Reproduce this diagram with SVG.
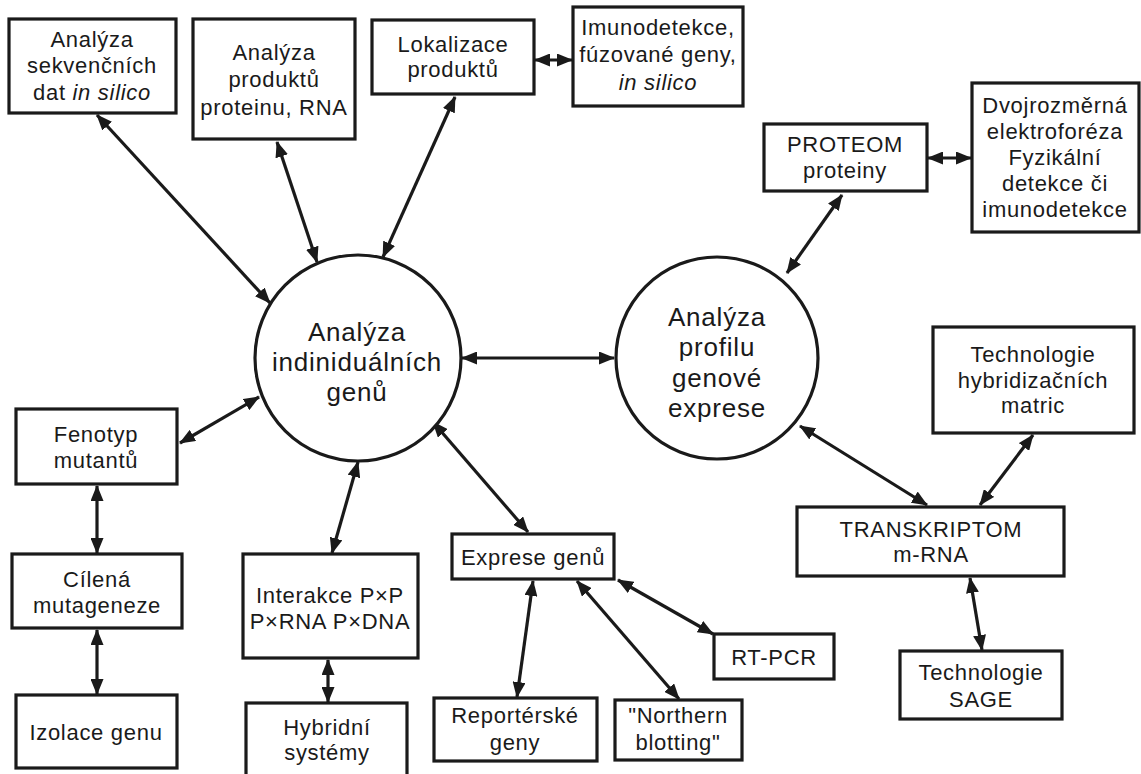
<svg xmlns="http://www.w3.org/2000/svg" width="1141" height="774" viewBox="0 0 1141 774">
<style>
.box{fill:#fff;stroke:#1a1a1a;stroke-width:3.2}
.circ{fill:#fff;stroke:#1a1a1a;stroke-width:3.2}
.t{font-family:"Liberation Sans",Arial,sans-serif;font-size:22px;letter-spacing:0.7px;fill:#1a1a1a;text-anchor:middle}
.c{font-family:"Liberation Sans",Arial,sans-serif;font-size:26px;letter-spacing:0.8px;fill:#1a1a1a;text-anchor:middle}
.con line{stroke:#1a1a1a;stroke-width:3.2;marker-start:url(#ah);marker-end:url(#ah)}
</style>
<defs>
<marker id="ah" viewBox="0 0 16 13" refX="15" refY="6.5" markerWidth="16" markerHeight="13" markerUnits="userSpaceOnUse" orient="auto-start-reverse">
<path d="M0,0 L16,6.5 L0,13 z" fill="#1a1a1a"/>
</marker>
</defs>
<rect width="1141" height="774" fill="#fff"/>

<g id="connectors" class="con">
<line x1="97" y1="115" x2="270" y2="303"/>
<line x1="277" y1="142" x2="317" y2="262"/>
<line x1="455" y1="97" x2="383" y2="257"/>
<line x1="535" y1="60" x2="572" y2="60"/>
<line x1="928" y1="158" x2="971" y2="158"/>
<line x1="842" y1="195" x2="787" y2="273"/>
<line x1="462" y1="358" x2="614" y2="358"/>
<line x1="180" y1="443" x2="259" y2="397"/>
<line x1="97" y1="486" x2="97" y2="553"/>
<line x1="97" y1="630" x2="97" y2="694"/>
<line x1="358" y1="462" x2="332" y2="553"/>
<line x1="328" y1="660" x2="328" y2="702"/>
<line x1="433" y1="422" x2="528" y2="532"/>
<line x1="533" y1="581" x2="517" y2="697"/>
<line x1="577" y1="581" x2="679" y2="699"/>
<line x1="618" y1="580" x2="713" y2="634"/>
<line x1="800" y1="426" x2="927" y2="505"/>
<line x1="1033" y1="435" x2="980" y2="505"/>
<line x1="970" y1="578" x2="982" y2="650"/>
</g>

<g id="n-individual">
<circle class="circ" cx="358" cy="358" r="103"/>
<text class="c" x="357" y="341">Analýza</text>
<text class="c" x="357" y="371">indiniduálních</text>
<text class="c" x="357" y="401">genů</text>
</g>

<g id="n-profil">
<circle class="circ" cx="717" cy="358" r="101"/>
<text class="c" x="717" y="326">Analýza</text>
<text class="c" x="717" y="356">profilu</text>
<text class="c" x="717" y="387">genové</text>
<text class="c" x="717" y="417">exprese</text>
</g>

<g id="n-sekvence">
<rect class="box" x="9" y="19" width="167" height="94"/>
<text class="t" x="92" y="47">Analýza</text>
<text class="t" x="92" y="73">sekvenčních</text>
<text class="t" x="92" y="100">dat <tspan font-style="italic">in silico</tspan></text>
</g>

<g id="n-produkty">
<rect class="box" x="193" y="19" width="162" height="120"/>
<text class="t" x="274" y="60">Analýza</text>
<text class="t" x="274" y="87">produktů</text>
<text class="t" x="274" y="115">proteinu, RNA</text>
</g>

<g id="n-lokalizace">
<rect class="box" x="372" y="20" width="162" height="74"/>
<text class="t" x="453" y="52">Lokalizace</text>
<text class="t" x="453" y="77">produktů</text>
</g>

<g id="n-imuno">
<rect class="box" x="573" y="7" width="170" height="99"/>
<text class="t" x="658" y="35">Imunodetekce,</text>
<text class="t" x="658" y="62">fúzované geny,</text>
<text class="t" x="658" y="90" font-style="italic">in silico</text>
</g>

<g id="n-proteom">
<rect class="box" x="764" y="124" width="163" height="67"/>
<text class="t" x="845" y="152">PROTEOM</text>
<text class="t" x="845" y="178">proteiny</text>
</g>

<g id="n-dvoj">
<rect class="box" x="972" y="83" width="167" height="149"/>
<text class="t" x="1055" y="113">Dvojrozměrná</text>
<text class="t" x="1055" y="139">elektroforéza</text>
<text class="t" x="1055" y="165">Fyzikální</text>
<text class="t" x="1055" y="191">detekce či</text>
<text class="t" x="1055" y="217">imunodetekce</text>
</g>

<g id="n-techhyb">
<rect class="box" x="933" y="327" width="201" height="106"/>
<text class="t" x="1033" y="362">Technologie</text>
<text class="t" x="1033" y="388">hybridizačních</text>
<text class="t" x="1033" y="413">matric</text>
</g>

<g id="n-transkriptom">
<rect class="box" x="797" y="507" width="267" height="69"/>
<text class="t" x="931" y="537">TRANSKRIPTOM</text>
<text class="t" x="931" y="562">m-RNA</text>
</g>

<g id="n-sage">
<rect class="box" x="900" y="651" width="162" height="68"/>
<text class="t" x="981" y="680">Technologie</text>
<text class="t" x="981" y="707">SAGE</text>
</g>

<g id="n-fenotyp">
<rect class="box" x="16" y="409" width="161" height="75"/>
<text class="t" x="96" y="442">Fenotyp</text>
<text class="t" x="96" y="468">mutantů</text>
</g>

<g id="n-cilena">
<rect class="box" x="12" y="554" width="170" height="74"/>
<text class="t" x="97" y="587">Cílená</text>
<text class="t" x="97" y="613">mutageneze</text>
</g>

<g id="n-izolace">
<rect class="box" x="16" y="695" width="161" height="73"/>
<text class="t" x="96" y="740">Izolace genu</text>
</g>

<g id="n-interakce">
<rect class="box" x="243" y="554" width="175" height="104"/>
<text class="t" x="330" y="603">Interakce P×P</text>
<text class="t" x="330" y="629">P×RNA P×DNA</text>
</g>

<g id="n-hybridni">
<rect class="box" x="246" y="703" width="161" height="75"/>
<text class="t" x="327" y="735">Hybridní</text>
<text class="t" x="327" y="760">systémy</text>
</g>

<g id="n-exprese">
<rect class="box" x="452" y="534" width="162" height="45"/>
<text class="t" x="533" y="565">Exprese genů</text>
</g>

<g id="n-reporter">
<rect class="box" x="434" y="698" width="163" height="63"/>
<text class="t" x="515" y="723">Reportérské</text>
<text class="t" x="515" y="750">geny</text>
</g>

<g id="n-northern">
<rect class="box" x="615" y="700" width="127" height="60"/>
<text class="t" x="678" y="723">"Northern</text>
<text class="t" x="678" y="750">blotting"</text>
</g>

<g id="n-rtpcr">
<rect class="box" x="714" y="634" width="120" height="45"/>
<text class="t" x="774" y="665">RT-PCR</text>
</g>
</svg>
